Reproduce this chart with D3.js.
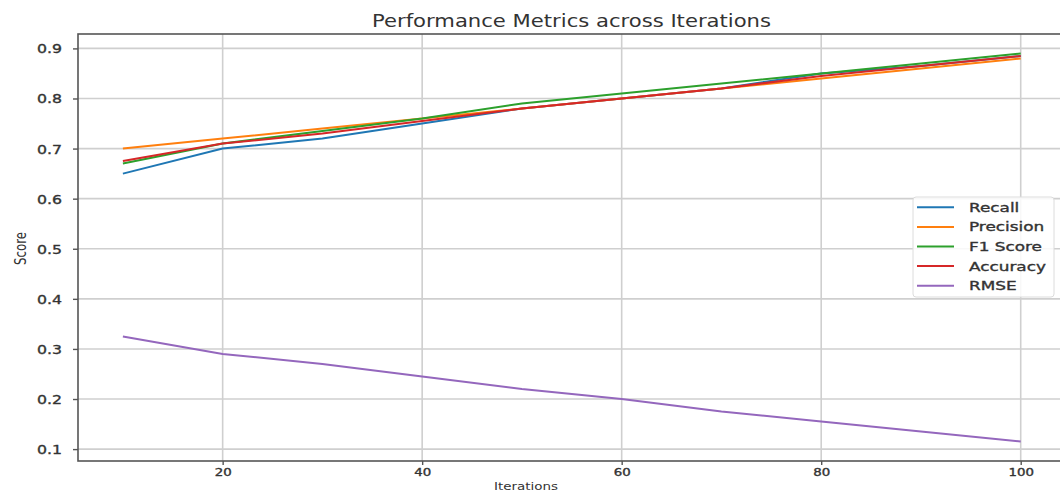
<!DOCTYPE html>
<html>
<head>
<meta charset="utf-8">
<script src="https://cdn.jsdelivr.net/npm/d3@7"></script>
<style>
  body { margin: 0; background: #fff; }
  text { font-family: 'DejaVu Sans', sans-serif; fill: #333; }
  .tick text, .legend text { stroke: #333; stroke-width: 0.35px; }
</style>
</head>
<body>
<div id="chart"></div>
<script>
// Data
const iterations = [10, 20, 30, 40, 50, 60, 70, 80, 90, 100];
const recall    = [0.65, 0.70, 0.72, 0.75, 0.78, 0.80, 0.82, 0.85, 0.865, 0.885];
const precision = [0.70, 0.72, 0.74, 0.76, 0.78, 0.80, 0.82, 0.84, 0.86, 0.88];
const f1Score   = [0.67, 0.71, 0.735, 0.76, 0.79, 0.81, 0.83, 0.85, 0.87, 0.89];
const accuracy  = [0.675, 0.71, 0.73, 0.755, 0.78, 0.80, 0.82, 0.845, 0.865, 0.885];
const rmse      = [0.325, 0.29, 0.27, 0.245, 0.22, 0.20, 0.175, 0.155, 0.135, 0.115];
const xTicks = [20, 40, 60, 80, 100];
const yTicks = [0.1, 0.2, 0.3, 0.4, 0.5, 0.6, 0.7, 0.8, 0.9];

const series = [
  { name: 'Recall', values: recall, color: '#1f77b4' },
  { name: 'Precision', values: precision, color: '#ff7f0e' },
  { name: 'F1 Score', values: f1Score, color: '#2ca02c' },
  { name: 'Accuracy', values: accuracy, color: '#d62728' },
  { name: 'RMSE', values: rmse, color: '#9467bd' },
];

// Chart dimensions (plot area runs a little past the right edge, as in the picture)
const W = 1060, H = 491;
const plot = { left: 78, top: 34, right: 1065.6, bottom: 461 };

const svg = d3.select('#chart')
  .append('svg')
  .attr('width', W)
  .attr('height', H);

// matplotlib style 5% margins around the data
const xExt = d3.extent(iterations);
const xPad = (xExt[1] - xExt[0]) * 0.05;
const allY = series.flatMap((s) => s.values);
const yExt = d3.extent(allY);
const yPad = (yExt[1] - yExt[0]) * 0.05;

const xScale = d3.scaleLinear()
  .domain([xExt[0] - xPad, xExt[1] + xPad])
  .range([plot.left, plot.right]);

const yScale = d3.scaleLinear()
  .domain([yExt[0] - yPad, yExt[1] + yPad])
  .range([plot.bottom, plot.top]);

// Grid lines
const grid = svg.append('g').attr('class', 'grid');
grid.selectAll('.vgrid')
  .data(xTicks)
  .enter()
  .append('line')
  .attr('x1', (d) => xScale(d))
  .attr('x2', (d) => xScale(d))
  .attr('y1', plot.top)
  .attr('y2', plot.bottom)
  .attr('stroke', '#cfcfcf')
  .attr('stroke-width', 1.6);
grid.selectAll('.hgrid')
  .data(yTicks)
  .enter()
  .append('line')
  .attr('x1', plot.left)
  .attr('x2', plot.right)
  .attr('y1', (d) => yScale(d))
  .attr('y2', (d) => yScale(d))
  .attr('stroke', '#cfcfcf')
  .attr('stroke-width', 1.6);

// Lines
const line = d3.line()
  .x((d, i) => xScale(iterations[i]))
  .y((d) => yScale(d));

svg.selectAll('.series')
  .data(series)
  .enter()
  .append('path')
  .attr('class', 'series')
  .attr('d', (d) => line(d.values))
  .attr('fill', 'none')
  .attr('stroke', (d) => d.color)
  .attr('stroke-width', 2);

// Axes
const xAxis = svg.append('g')
  .attr('transform', `translate(0, ${plot.bottom})`)
  .call(d3.axisBottom(xScale).tickValues(xTicks).tickSize(4).tickPadding(3).tickFormat(d3.format('d')));

const yAxis = svg.append('g')
  .attr('transform', `translate(${plot.left}, 0)`)
  .call(d3.axisLeft(yScale).tickValues(yTicks).tickSize(5).tickFormat(d3.format('.1f')));

[xAxis, yAxis].forEach((ax) => {
  ax.select('.domain').remove();
  ax.selectAll('.tick line').attr('stroke', '#555').attr('stroke-width', 1.4);
});

xAxis.selectAll('.tick text')
  .attr('y', null)
  .attr('dy', null)
  .attr('transform', 'translate(0, 14.5) scale(1.27, 1)')
  .style('font-size', '10.5px');

yAxis.selectAll('.tick text')
  .attr('x', null)
  .attr('dy', null)
  .attr('transform', 'translate(-16, 4.5) scale(1.26, 1)')
  .style('font-size', '12.5px');

// Spines
svg.append('rect')
  .attr('x', plot.left)
  .attr('y', plot.top)
  .attr('width', plot.right - plot.left)
  .attr('height', plot.bottom - plot.top)
  .attr('fill', 'none')
  .attr('stroke', '#555')
  .attr('stroke-width', 1.6);

// Title
svg.append('text')
  .attr('x', 571.5)
  .attr('y', 27)
  .attr('text-anchor', 'middle')
  .attr('textLength', 399)
  .attr('lengthAdjust', 'spacingAndGlyphs')
  .style('font-size', '17.5px')
  .text('Performance Metrics across Iterations');

// X-axis label
svg.append('text')
  .attr('x', 526)
  .attr('y', 489.5)
  .attr('text-anchor', 'middle')
  .attr('textLength', 64)
  .attr('lengthAdjust', 'spacingAndGlyphs')
  .style('font-size', '10.5px')
  .text('Iterations');

// Y-axis label
svg.append('text')
  .attr('transform', 'translate(26, 248.5) scale(1.25, 1) rotate(-90)')
  .attr('text-anchor', 'middle')
  .attr('textLength', 33)
  .attr('lengthAdjust', 'spacingAndGlyphs')
  .style('font-size', '13px')
  .text('Score');

// Legend
const legend = svg.append('g')
  .attr('class', 'legend')
  .attr('transform', 'translate(913, 197)');

legend.append('rect')
  .attr('x', 0)
  .attr('y', 0)
  .attr('width', 141)
  .attr('height', 100)
  .attr('rx', 3)
  .attr('fill', 'white')
  .attr('fill-opacity', 0.85)
  .attr('stroke', '#dcdcdc')
  .attr('stroke-width', 1);

const items = legend.selectAll('.item')
  .data(series)
  .enter()
  .append('g')
  .attr('class', 'item')
  .attr('transform', (d, i) => `translate(0, ${10.3 + i * 19.6})`);

items.append('line')
  .attr('x1', 4)
  .attr('x2', 41)
  .attr('stroke', (d) => d.color)
  .attr('stroke-width', 2);

items.append('text')
  .attr('transform', 'translate(56, 4.5) scale(1.35, 1)')
  .style('font-size', '12.5px')
  .text((d) => d.name);
</script>
</body>
</html>
